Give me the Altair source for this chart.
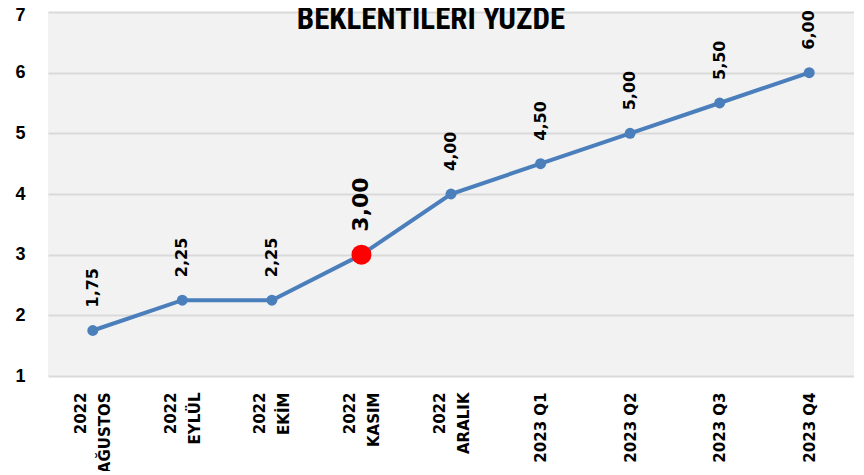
import altair as alt
import pandas as pd

categories = ["2022\nAĞUSTOS", "2022\nEYLÜL", "2022\nEKİM", "2022\nKASIM", "2022\nARALIK",
              "2023 Q1", "2023 Q2", "2023 Q3", "2023 Q4"]
values = [1.75, 2.25, 2.25, 3.00, 4.00, 4.50, 5.00, 5.50, 6.00]
highlight = "2022\nKASIM"
y_ticks = [1, 2, 3, 4, 5, 6, 7]
title_text = "BEKLENTİLERİ YÜZDE"

df = pd.DataFrame({"cat": categories, "val": values})
df["hl"] = df["cat"] == highlight

LINE = "#4b7fbc"
LABEL_FONT = "DejaVu Sans"

x = alt.X("cat:N", sort=categories,
          scale=alt.Scale(type="point", padding=0.5),
          axis=alt.Axis(title=None, labelAngle=-90, labelExpr="split(datum.label, '\\n')",
                        labelFont=LABEL_FONT, labelFontWeight="bold", labelFontSize=15,
                        labelColor="black", labelLineHeight=24, labelPadding=16,
                        labelOffset={"condition": {"test": "indexof(datum.label, '\\n') >= 0", "value": -12}, "value": 0},
                        ticks=False, domain=False, grid=False))
y = alt.Y("val:Q", scale=alt.Scale(domain=[1, 7], nice=False, zero=False),
          axis=alt.Axis(title=None, values=y_ticks, format="d",
                        labelFont="Liberation Sans", labelFontWeight="bold", labelFontSize=18,
                        labelColor="black", labelPadding=23, ticks=False, domain=False,
                        labelOffset={"condition": {"test": "datum.value == 7", "value": 3}, "value": 0},
                        grid=True, gridColor="#d9d9d9", gridWidth=2))

base = alt.Chart(df).transform_calculate(
    lab="replace(format(datum.val, '.2f'), '.', ',')"
)

line = base.mark_line(color=LINE, strokeWidth=4).encode(x=x, y=y)
pts = base.mark_circle(color=LINE, opacity=1, size=120).encode(x=x, y=y)
red = base.transform_filter("datum.hl").mark_circle(color="#ff0000", opacity=1, size=400).encode(x=x, y=y)
labs = base.transform_filter("!datum.hl").mark_text(
    angle=270, align="left", baseline="middle", yOffset=-23,
    font=LABEL_FONT, fontWeight="bold", fontSize=16, color="black"
).encode(x=x, y=y, text="lab:N")
labbig = base.transform_filter("datum.hl").mark_text(
    angle=270, align="left", baseline="middle", yOffset=-23,
    font=LABEL_FONT, fontWeight="bold", fontSize=22, color="black"
).encode(x=x, y=y, text="lab:N")

title = alt.Chart(pd.DataFrame({"t": [title_text]})).mark_text(
    font="Liberation Sans Narrow, Roboto Condensed, Liberation Sans", fontSize=31, fontWeight="bold",
    color="black", align="center", baseline="alphabetic"
).encode(x=alt.value(383), y=alt.value(17), text="t:N")

chart = alt.layer(line, pts, red, labs, labbig, title).properties(
    width=806, height=364,
    autosize=alt.AutoSizeParams(type="none"),
    padding={"left": 40, "top": 4, "right": 0, "bottom": 95},
    background="white",
).configure_view(fill="#f2f2f2", strokeWidth=0)

chart.save("out.html", embed_options={"renderer": "svg", "actions": False})
